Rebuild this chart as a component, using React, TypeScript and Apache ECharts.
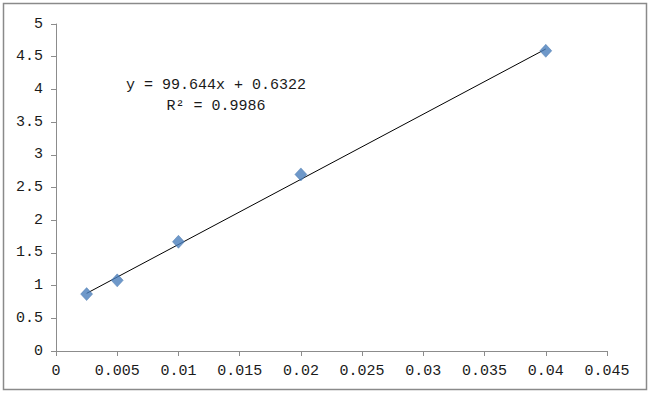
import React, { useEffect, useRef } from "react";
import * as echarts from "echarts";

const xValues = [0.0025, 0.005, 0.01, 0.02, 0.04];
const yValues = [0.87, 1.08, 1.67, 2.7, 4.59];
const slope = 99.644;
const intercept = 0.6322;
const equationLines = ["y = 99.644x + 0.6322", "R² = 0.9986"];

const FONT = "'Liberation Mono', 'DejaVu Sans Mono', monospace";

export default function App() {
  const ref = useRef<HTMLDivElement>(null);
  useEffect(() => {
    if (!ref.current) return;
    const chart = echarts.init(ref.current, null, { renderer: "svg" });
    const xStart = xValues[0];
    const xEnd = xValues[xValues.length - 1];
    chart.setOption({
      animation: false,
      backgroundColor: "#ffffff",
      grid: { left: 56, right: 43, top: 24, bottom: 44 },
      xAxis: {
        type: "value",
        min: 0,
        max: 0.045,
        interval: 0.005,
        splitLine: { show: false },
        axisLine: { show: true, onZero: false, lineStyle: { color: "#8c8c8c", width: 1 } },
        axisTick: { show: true, length: 5, lineStyle: { color: "#8c8c8c" } },
        axisLabel: {
          color: "#1a1a1a",
          fontFamily: FONT,
          fontSize: 15,
          margin: 13,
          formatter: (v: number) => String(parseFloat(v.toFixed(4))),
        },
      },
      yAxis: {
        type: "value",
        min: 0,
        max: 5,
        interval: 0.5,
        splitLine: { show: false },
        axisLine: { show: true, lineStyle: { color: "#8c8c8c", width: 1 } },
        axisTick: { show: true, length: 5, lineStyle: { color: "#8c8c8c" } },
        axisLabel: {
          color: "#1a1a1a",
          fontFamily: FONT,
          fontSize: 15,
          margin: 13,
        },
      },
      series: [
        {
          type: "line",
          data: [
            [xStart, slope * xStart + intercept],
            [xEnd, slope * xEnd + intercept],
          ],
          showSymbol: false,
          symbol: "none",
          lineStyle: { color: "#000", width: 1 },
          silent: true,
          z: 1,
        },
        {
          type: "scatter",
          data: xValues.map((x, i) => [x, yValues[i]]),
          symbol: "diamond",
          symbolSize: [12, 13],
          itemStyle: { color: "#4a7ebb", borderColor: "#3d6ea8", borderWidth: 0.5 },
          z: 3,
        },
      ],
      graphic: [
        {
          type: "rect",
          shape: { x: 3.5, y: 3.5, width: 643, height: 386 },
          style: { fill: "none", stroke: "#8a8a8a", lineWidth: 1.5 },
          silent: true,
        },
        {
          type: "text",
          x: 216,
          y: 85,
          style: {
            text: equationLines[0],
            fill: "#1a1a1a",
            font: `15px ${FONT}`,
            textAlign: "center",
            textVerticalAlign: "middle",
          },
        },
        {
          type: "text",
          x: 216,
          y: 106,
          style: {
            text: equationLines[1],
            fill: "#1a1a1a",
            font: `15px ${FONT}`,
            textAlign: "center",
            textVerticalAlign: "middle",
          },
        },
      ],
    });
    return () => chart.dispose();
  }, []);
  return (
    <div
      ref={ref}
      style={{ position: "fixed", left: 0, top: 0, width: 650, height: 395 }}
    />
  );
}
